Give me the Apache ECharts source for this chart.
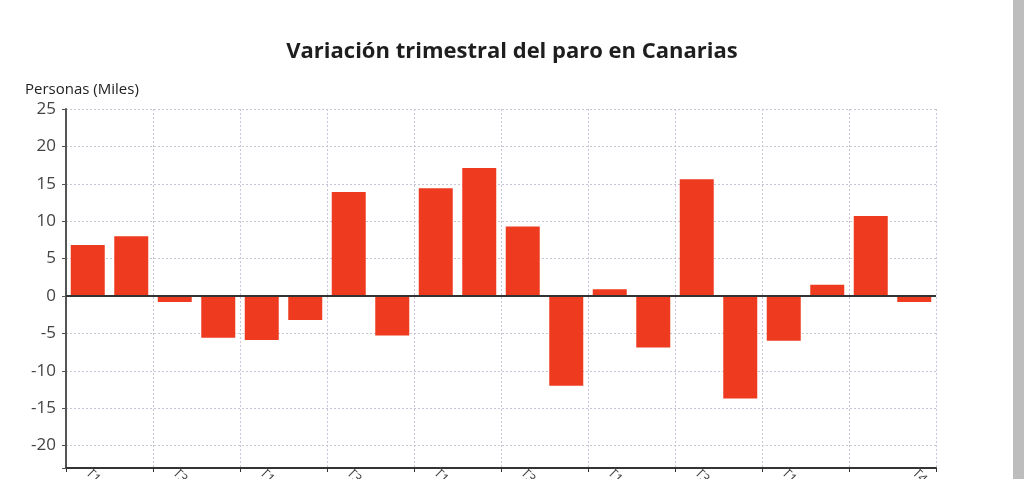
<!DOCTYPE html>
<html>
<head>
<meta charset="utf-8">
<script src="https://cdn.jsdelivr.net/npm/echarts@6/dist/echarts.min.js"></script>
<style>
  html, body { margin: 0; padding: 0; background: #fff; }
  #chart { width: 1024px; height: 479px; }
</style>
</head>
<body>
<div id="chart"></div>
<script>
// quarters shown on the x axis (labels are cut off by the frame)
var quarters = [
  'T1 2018', 'T2 2018', 'T3 2018', 'T4 2018',
  'T1 2019', 'T2 2019', 'T3 2019', 'T4 2019',
  'T1 2020', 'T2 2020', 'T3 2020', 'T4 2020',
  'T1 2021', 'T2 2021', 'T3 2021', 'T4 2021',
  'T1 2022', 'T2 2022', 'T3 2022', 'T4 2022'
];
// quarterly change in unemployment, thousands of people
var variacion = [
  6.8, 8.0, -0.8, -5.6, -5.9, -3.2, 13.9, -5.3, 14.4, 17.1,
  9.3, -12.0, 0.9, -6.9, 15.6, -13.7, -6.0, 1.5, 10.7, -0.8
];
var yMin = -23;
var yMax = 25;

var chart = echarts.init(document.getElementById('chart'));

var gridColor = '#cbc4d6';
var axisColor = '#333';

var option = {
  backgroundColor: '#ffffff',
  animation: false,
  title: {
    text: 'Variación trimestral del paro en Canarias',
    left: 'center',
    top: 36,
    textStyle: {
      fontFamily: 'Open Sans',
      fontWeight: 'bold',
      fontSize: 22,
      color: '#1e1e1e'
    }
  },
  graphic: [{
    // scrollbar strip on the right edge of the screenshot
    type: 'rect',
    right: 0,
    top: 0,
    shape: { width: 11, height: 479 },
    style: { fill: '#bdbdbd' }
  }],
  grid: {
    left: 66,
    right: 88,
    top: 109,
    bottom: 11,
    containLabel: false,
    outerBoundsMode: 'none'
  },
  xAxis: {
    type: 'category',
    data: quarters,
    axisLine: {
      onZero: false,
      lineStyle: { color: axisColor, width: 2 }
    },
    axisTick: {
      show: true,
      interval: 1,
      length: 4,
      lineStyle: { color: axisColor }
    },
    axisLabel: {
      rotate: -45,
      margin: 3,
      fontFamily: 'Open Sans',
      fontSize: 13,
      color: '#444',
      interval: function (i) {
        return (i % 2 === 0 && i < 18) || i === 19;
      }
    },
    splitLine: {
      show: true,
      interval: 1,
      lineStyle: { color: gridColor, type: [2, 2], width: 1 }
    }
  },
  yAxis: {
    type: 'value',
    min: yMin,
    max: yMax,
    splitNumber: 10,
    name: 'Personas (Miles)',
    nameLocation: 'end',
    nameGap: 12,
    nameTextStyle: {
      fontFamily: 'Open Sans',
      fontSize: 15,
      color: '#222',
      align: 'left',
      padding: [0, 0, 0, -41]
    },
    axisLine: {
      show: true,
      lineStyle: { color: '#555', width: 2 }
    },
    axisTick: {
      show: true,
      length: 4,
      lineStyle: { color: '#555' }
    },
    axisLabel: {
      fontFamily: 'Open Sans',
      fontSize: 17,
      color: '#444',
      margin: 10,
      formatter: function (v) {
        return v % 5 === 0 ? String(v) : '';
      }
    },
    splitLine: {
      show: true,
      lineStyle: { color: gridColor, type: [2, 2], width: 1 }
    }
  },
  series: [{
    type: 'bar',
    data: variacion,
    barWidth: 34,
    itemStyle: { color: '#ee3b20' },
    markLine: {
      silent: true,
      symbol: 'none',
      label: { show: false },
      lineStyle: { color: '#333', type: 'solid', width: 2 },
      data: [{ yAxis: 0 }]
    }
  }]
};

chart.setOption(option);
</script>
</body>
</html>
